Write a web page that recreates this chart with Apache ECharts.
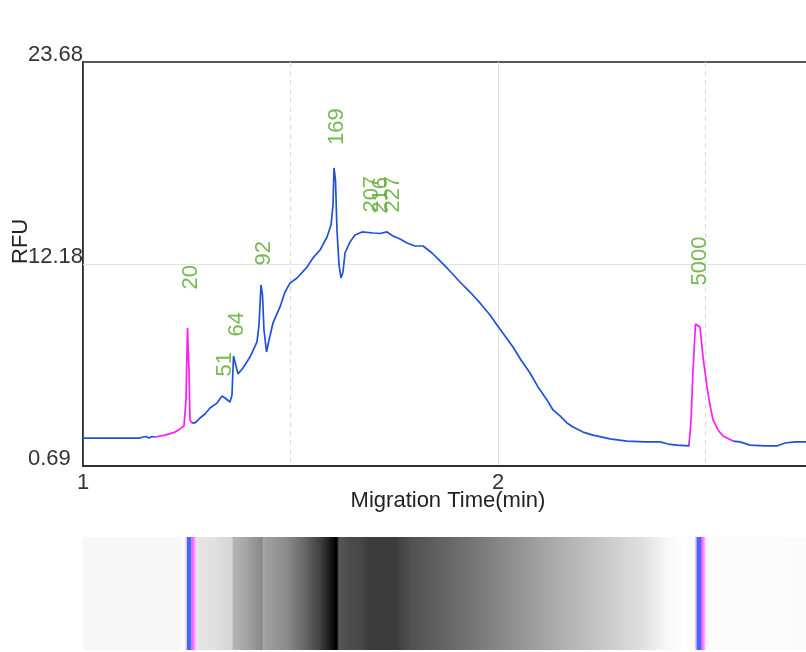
<!DOCTYPE html>
<html>
<head>
<meta charset="utf-8">
<script src="https://cdn.jsdelivr.net/npm/echarts@6/dist/echarts.min.js"></script>
<style>
  html, body { margin: 0; padding: 0; background: #fff; }
  #chart { width: 806px; height: 652px; }
</style>
</head>
<body>
<div id="chart"></div>
<script>
// ---------------- data ----------------
const time = [1.000,1.041,1.089,1.137,1.1446,1.1518,1.1590,1.1663,1.1735,1.1976,
  1.2217,1.2337,1.2434,1.2482,1.2518,1.2554,1.2578,1.2627,1.2699,1.2819,
  1.2940,1.3060,1.3229,1.3349,1.3422,1.3542,1.3590,1.3627,1.3663,1.3735,
  1.3855,1.4024,1.4193,1.4241,1.4289,1.4325,1.4361,1.4422,1.4482,1.4578,
  1.4747,1.4867,1.4988,1.5157,1.5398,1.5542,1.5711,1.5880,1.5976,1.6024,
  1.6048,1.6084,1.6120,1.6169,1.6217,1.6265,1.6313,1.6434,1.6554,1.6723,
  1.6988,1.7157,1.7325,1.7470,1.7639,1.7807,1.8000,1.8193,1.8410,1.8602,
  1.8771,1.9084,1.9325,1.9566,1.9807,1.9976,2.0169,2.0361,2.0554,2.0771,
  2.0964,2.1181,2.1325,2.1494,2.1663,2.1807,2.2048,2.2289,2.2699,2.3108,
  2.3542,2.3904,2.4096,2.4313,2.4602,2.4651,2.4699,2.4759,2.4807,2.4867,
  2.4940,2.5036,2.5108,2.5181,2.5301,2.5422,2.5663,2.5831,2.6072,2.6434,
  2.6723,2.6916,2.7157,2.7639];
const rfu = [2.28,2.28,2.28,2.28,2.34,2.37,2.28,2.37,2.34,2.45,
  2.62,2.80,2.97,4.45,8.54,6.15,3.31,3.14,3.14,3.42,
  3.65,3.99,4.27,4.67,4.56,4.33,4.73,6.95,6.61,5.93,
  6.27,6.89,7.75,8.71,10.99,10.42,8.43,7.18,7.86,8.83,
  9.74,10.59,11.10,11.39,12.01,12.53,12.98,13.72,14.40,15.54,
  17.65,16.96,14.12,12.13,11.39,11.73,12.81,13.44,13.84,14.01,
  13.95,13.92,14.01,13.78,13.61,13.38,13.21,13.21,12.81,12.36,
  11.96,11.16,10.59,9.97,9.28,8.71,8.09,7.46,6.72,5.98,
  5.19,4.45,3.88,3.54,3.14,2.91,2.62,2.45,2.23,2.11,
  2.06,2.06,1.94,1.88,1.83,3.31,6.15,8.77,8.77,8.60,
  6.89,5.19,4.16,3.31,2.74,2.40,2.11,2.06,1.88,1.83,
  1.83,2.00,2.06,2.06];

// ladder (marker) regions of the trace, in minutes
const ladderRanges = [[1.1735, 1.2627], [2.4602, 2.5663]];
const ladderPeakTimes = [1.2518, 2.4795];

// virtual gel lane: band darkness (0 = white, 100 = black) along migration time
const gelTime = [1.0000, 1.2337, 1.2349, 1.2361, 1.2699, 1.2723, 1.3181, 1.3590, 1.3614, 1.3783,
  1.4024, 1.4313, 1.4337, 1.4361, 1.4386, 1.4916, 1.5301, 1.5711, 1.5952, 1.6072,
  1.6120, 1.6157, 1.6313, 1.6434, 1.6675, 1.6867, 1.7518, 1.7880, 1.9084, 2.0289,
  2.1494, 2.2699, 2.3494, 2.4072, 2.4506, 2.5108, 2.6313, 2.7639];
const gelLevel = [3.1, 3.1, 3.1, 0, 0, 9.8, 12.2, 16.9, 29.4, 32.5,
  38.0, 47.1, 34.1, 34.1, 37.3, 45.9, 58.4, 74.9, 90.6, 100,
  100, 66.7, 68.6, 71.0, 71.8, 76.5, 76.5, 68.6, 56.9, 44.3,
  31.8, 20.0, 12.2, 2.7, 0, 1.2, 1.2, 1.6];

// peak annotations
const peakNames = ['20', '51', '64', '92', '169', '207', '216', '227', '5000'];
const peakTimes = [1.2518, 1.3349, 1.3627, 1.4289, 1.6048, 1.6892, 1.7108, 1.7398, 2.4795];
const peakRfu   = [8.54, 4.67, 6.95, 10.99, 17.85, 14.0, 13.93, 14.0, 8.77];
const ladderNames = ['20', '5000'];

// axes
const xMin = 1, xMax = 2.759;
const xTickInterval = 1;
const yTickValues = [0.69, 12.18, 23.68];
const yTickLabels = ['0.69', '12.18', '23.68'];

// ---------------- chart ----------------
const BLUE = '#2152d6', MAGENTA = '#ff1aff', GREEN = '#56a82c';
const FONT = 'Liberation Sans, Arial, sans-serif';
const FS = 22;

function levelGray(l) {
  const g = Math.round(255 - 2.55 * Math.max(0, Math.min(100, l)));
  return 'rgb(' + g + ',' + g + ',' + g + ')';
}

const lineData = time.map((t, i) => [t, rfu[i]]);
const gelData = [];
for (let i = 0; i < gelTime.length - 1; i++) {
  gelData.push([gelTime[i], gelTime[i + 1], gelLevel[i], gelLevel[i + 1]]);
}
const labelData = peakTimes.map((t, i) => ({
  value: [t, peakRfu[i]],
  name: peakNames[i],
  label: { distance: ladderNames.includes(peakNames[i]) ? 38 : 19 }
}));

const pieces = [];
let prev = null;
ladderRanges.forEach(r => {
  pieces.push(prev === null ? { lt: r[0], color: BLUE } : { gte: prev, lt: r[0], color: BLUE });
  pieces.push({ gte: r[0], lt: r[1], color: MAGENTA });
  prev = r[1];
});
pieces.push({ gte: prev, color: BLUE });

const chart = echarts.init(document.getElementById('chart'), null, { renderer: 'canvas' });
chart.setOption({
  animation: false,
  backgroundColor: '#ffffff',
  textStyle: { fontFamily: FONT },
  grid: [
    { left: 83, top: 62, width: 730, height: 404, show: true, borderColor: '#222', borderWidth: 1.5,
      containLabel: false, outerBoundsMode: 'none' },
    { left: 83, top: 537, width: 730, height: 113, containLabel: false, outerBoundsMode: 'none' }
  ],
  xAxis: [
    {
      type: 'value', gridIndex: 0, min: xMin, max: xMax, interval: xTickInterval,
      axisLine: { show: true, onZero: false, lineStyle: { color: '#222', width: 1.5 } },
      axisTick: { show: false },
      axisLabel: {
        fontSize: FS, color: '#333', margin: 6, fontFamily: FONT,
        formatter: v => (Math.abs(v - Math.round(v)) < 1e-9 ? String(Math.round(v)) : '')
      },
      splitLine: { show: true, lineStyle: { color: '#e3e3e3', width: 1 } },
      minorTick: { show: false, splitNumber: 2 },
      minorSplitLine: { show: true, lineStyle: { color: '#dadada', width: 1, type: [5, 4] } },
      name: 'Migration Time(min)', nameLocation: 'middle', nameGap: 24, nameMoveOverlap: false,
      nameTextStyle: { fontSize: FS, color: '#222', fontFamily: FONT }
    },
    { type: 'value', gridIndex: 1, min: xMin, max: xMax, show: false }
  ],
  yAxis: [
    {
      type: 'value', gridIndex: 0, min: yTickValues[0], max: yTickValues[yTickValues.length - 1],
      axisLine: { show: true, lineStyle: { color: '#222', width: 1.5 } },
      axisTick: { show: false },
      axisLabel: {
        customValues: yTickValues,
        formatter: (v) => { const k = yTickValues.findIndex(x => Math.abs(x - v) < 1e-6); return k >= 0 ? yTickLabels[k] : ''; },
        fontSize: FS, color: '#333', align: 'left', margin: 55, verticalAlign: 'bottom', lineHeight: 15, fontFamily: FONT
      },
      splitLine: { show: false },
      name: 'RFU', nameLocation: 'middle', nameGap: 51, nameMoveOverlap: false,
      nameTextStyle: { fontSize: FS, color: '#222', align: 'left', fontFamily: FONT }
    },
    { type: 'value', gridIndex: 1, min: 0, max: 1, show: false }
  ],
  visualMap: [{
    type: 'piecewise', show: false, seriesIndex: 2, dimension: 0, pieces: pieces
  }],
  series: [
    {
      type: 'custom', xAxisIndex: 1, yAxisIndex: 1, silent: true, clip: true,
      data: gelData,
      renderItem: (params, api) => {
        const p0 = api.coord([api.value(0), 1]);
        const p1 = api.coord([api.value(1), 0]);
        return {
          type: 'rect',
          shape: { x: p0[0], y: p0[1], width: p1[0] - p0[0] + 0.6, height: p1[1] - p0[1] },
          style: { fill: new echarts.graphic.LinearGradient(0, 0, 1, 0, [
            { offset: 0, color: levelGray(api.value(2)) },
            { offset: 1, color: levelGray(api.value(3)) }
          ]) }
        };
      }
    },
    {
      type: 'custom', xAxisIndex: 1, yAxisIndex: 1, silent: true, clip: true,
      data: ladderPeakTimes.map(t => [t]),
      renderItem: (params, api) => {
        const top = api.coord([api.value(0), 1]);
        const bot = api.coord([api.value(0), 0]);
        const c = top[0];
        const h = bot[1] - top[1];
        return {
          type: 'group',
          children: [
            { type: 'rect', shape: { x: c - 2, y: top[1], width: 1.5, height: h }, style: { fill: '#ffb8ff' } },
            { type: 'rect', shape: { x: c - 0.5, y: top[1], width: 4.5, height: h }, style: { fill: '#3d6cff' } },
            { type: 'rect', shape: { x: c + 4, y: top[1], width: 4.5, height: h },
              style: { fill: new echarts.graphic.LinearGradient(0, 0, 1, 0, [
                { offset: 0, color: '#ff3cff' }, { offset: 1, color: '#ffc4ff' }]) } }
          ]
        };
      }
    },
    {
      type: 'line', xAxisIndex: 0, yAxisIndex: 0, data: lineData,
      showSymbol: false, symbol: 'none', smooth: false,
      lineStyle: { width: 1.7 }, z: 3,
      markLine: {
        silent: true, symbol: 'none', z: 1,
        label: { show: false },
        lineStyle: { color: '#e3e3e3', width: 1, type: 'solid' },
        data: [{ yAxis: yTickValues[1] }]
      }
    },
    {
      type: 'scatter', xAxisIndex: 0, yAxisIndex: 0, silent: true,
      symbolSize: 1, itemStyle: { color: 'rgba(0,0,0,0)' },
      data: labelData,
      label: {
        show: true, position: 'top', rotate: 90, align: 'left', verticalAlign: 'middle',
        offset: [0, 3],
        formatter: p => p.name, color: GREEN, fontSize: FS, fontFamily: FONT
      },
      z: 4
    }
  ]
});
</script>
</body>
</html>
